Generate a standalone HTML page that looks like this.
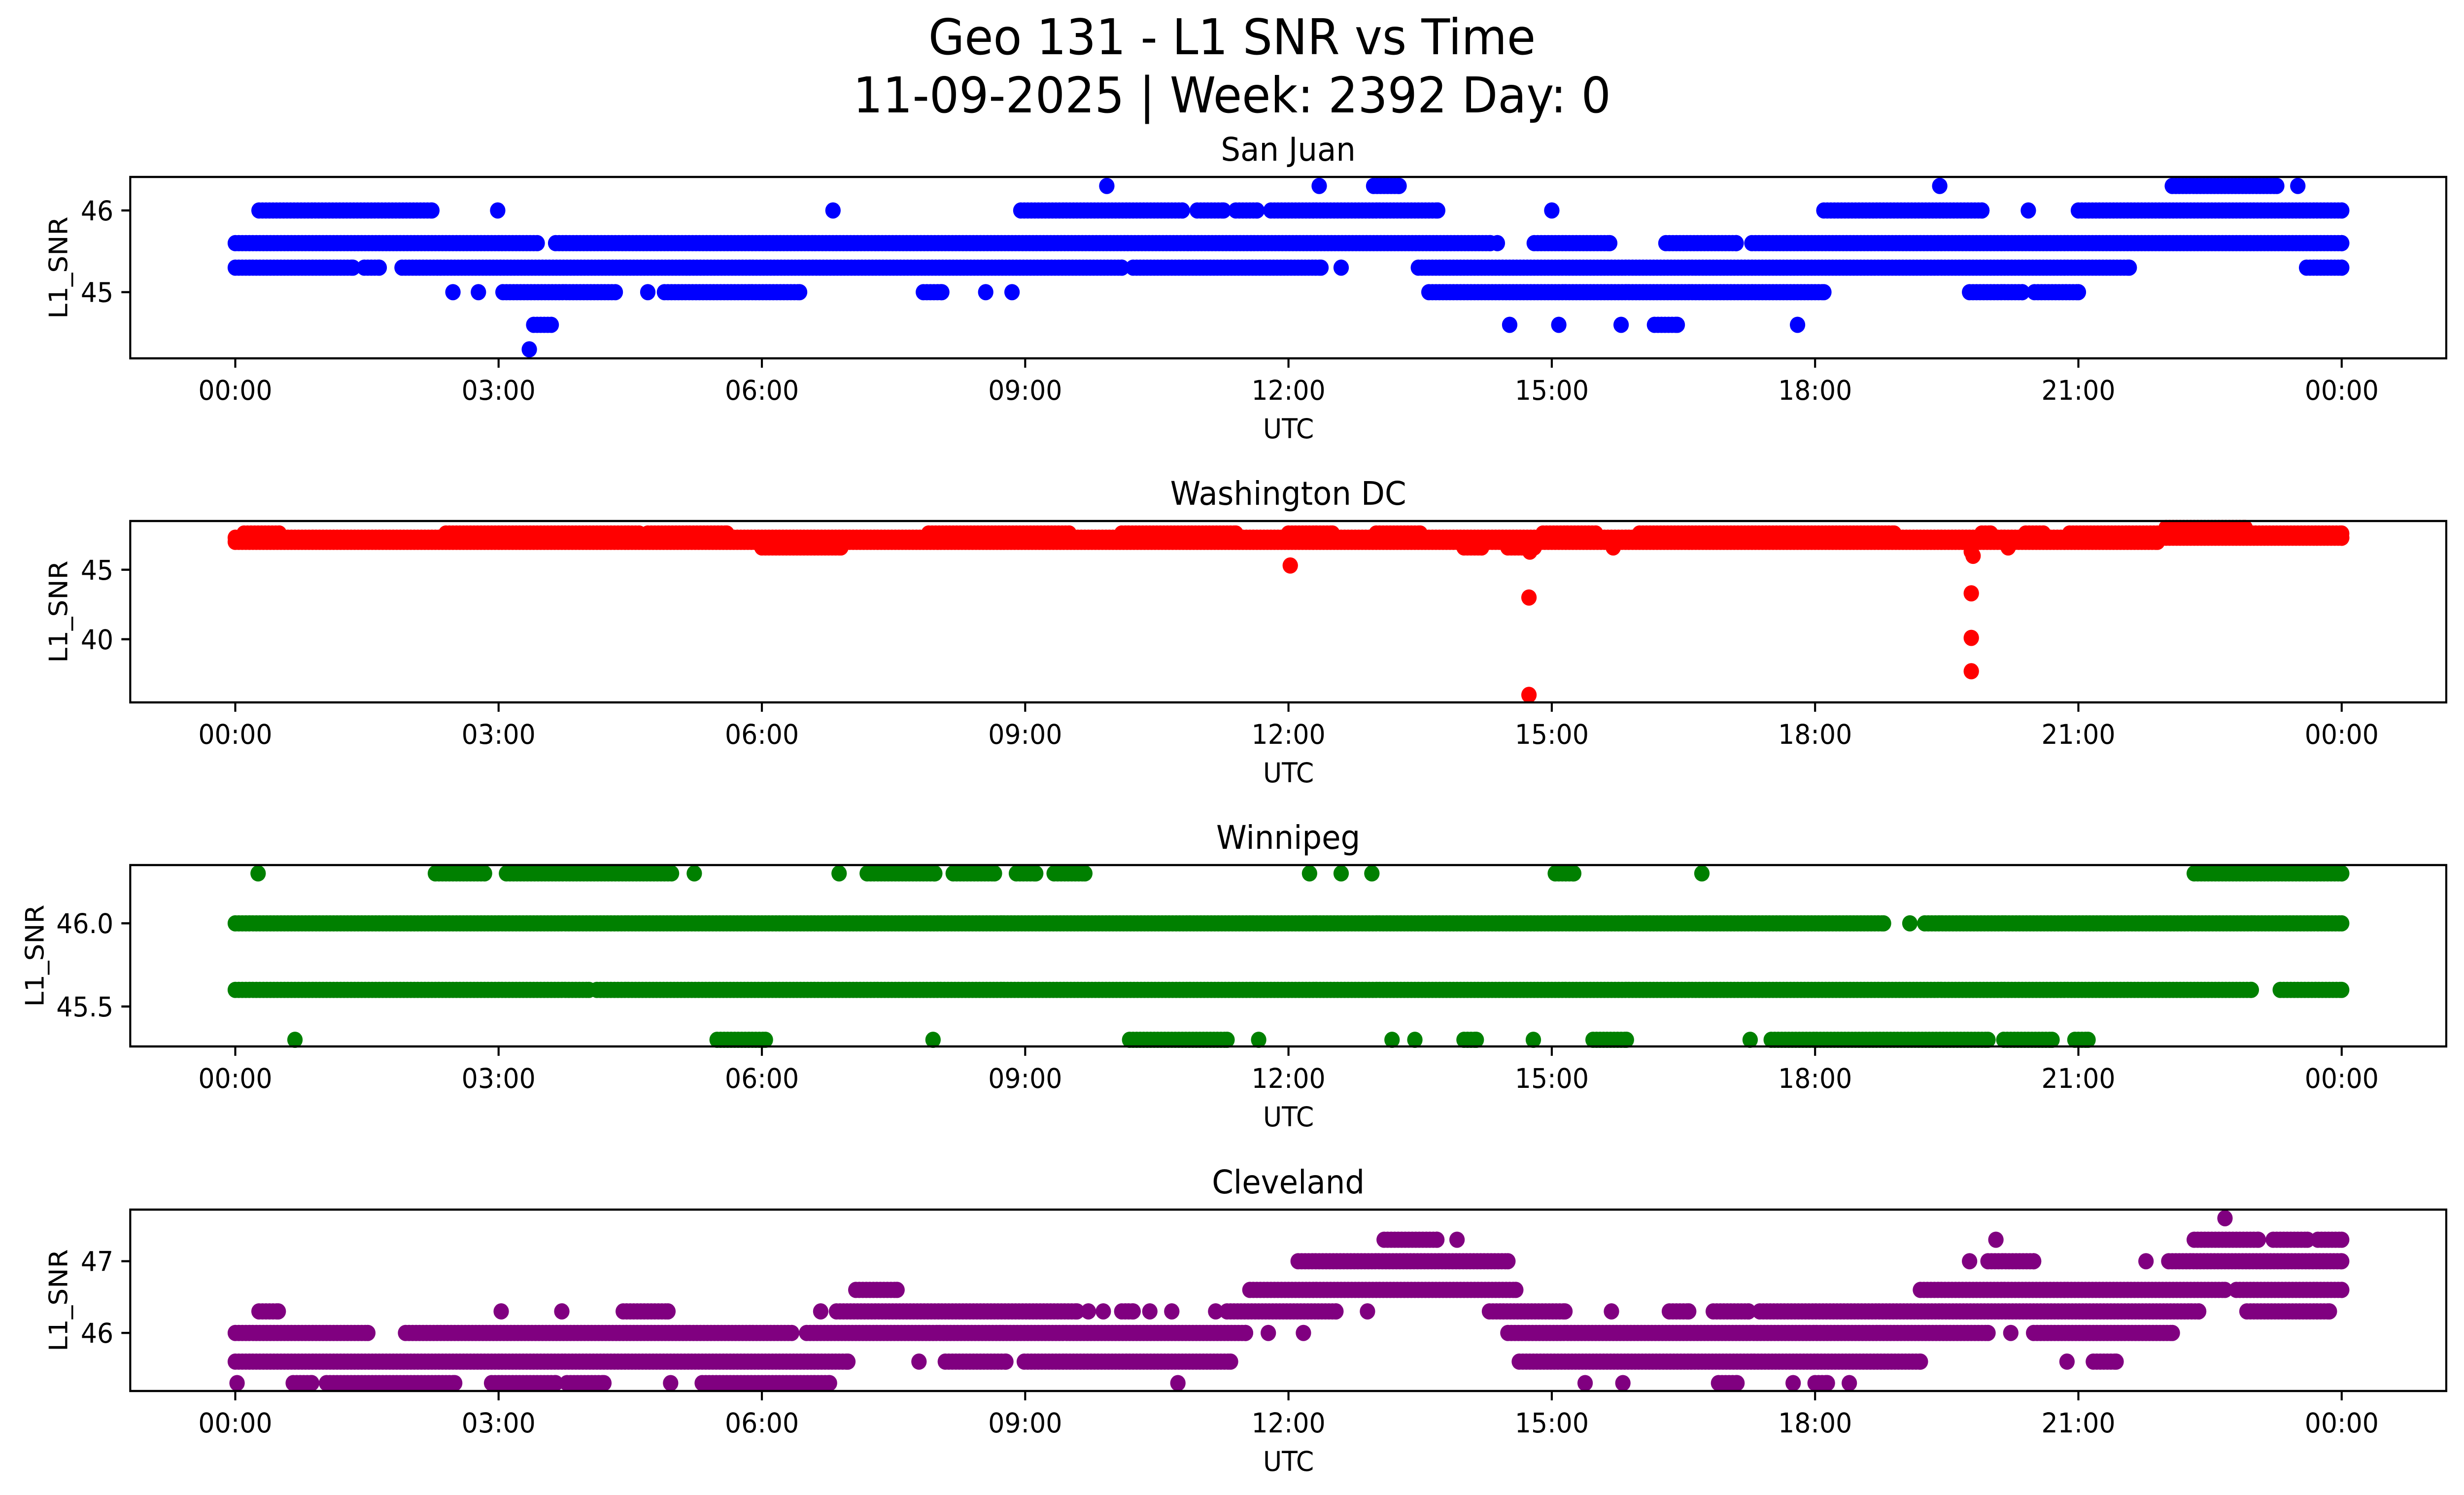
<!DOCTYPE html>
<html><head><meta charset="utf-8"><style>
html,body{margin:0;padding:0;background:#fff;overflow:hidden;width:100%;height:100%;}
svg{display:block;position:fixed;left:0;top:0;width:100vw;height:100vh;font-family:"DejaVu Sans","Liberation Sans",sans-serif;}
</style></head><body>
<svg id="fig" viewBox="0 0 5278 3033" preserveAspectRatio="none" xmlns="http://www.w3.org/2000/svg">
<rect x="0" y="0" width="5278" height="3033" fill="#fff"/>
<text x="2639" y="110" text-anchor="middle" font-size="100">Geo 131 - L1 SNR vs Time</text>
<text x="2639" y="228" text-anchor="middle" font-size="100">11-09-2025 | Week: 2392 Day: 0</text>
</svg>
<script>
// ---- data ----
const xTickHours = [0,3,6,9,12,15,18,21,24];
const xTickLabels = ["00:00","03:00","06:00","09:00","12:00","15:00","18:00","21:00","00:00"];
const panelTitles = ["San Juan","Washington DC","Winnipeg","Cleveland"];
const panelColors = ["#0000ff","#ff0000","#008000","#800080"];
const yDomains = [[44.19,46.41],[35.46,48.5],[45.26,46.35],[45.19,47.72]];
const yTicks = [[45,46],[40,45],[45.5,46.0],[46,47]];
const yTickLabels = [["45","46"],["40","45"],["45.5","46.0"],["46","47"]];

// San Juan runs
const p1Level = [46.3,46.3,46.3,46.3,46.3,46.3, 46,46,46,46,46,46,46,46,46,46,46, 45.6,45.6,45.6,45.6,45.6,45.6, 45.3,45.3,45.3,45.3,45.3,45.3,45.3, 45,45,45,45,45,45,45,45,45,45,45, 44.6,44.6,44.6,44.6,44.6,44.6, 44.3];
const p1Start = [9.93,12.35,12.97,19.42,22.07,23.5, 0.27,2.99,6.81,8.95,10.96,11.4,11.8,15.0,18.1,20.43,21.0, 0,3.65,14.38,14.8,16.3,17.28, 0,1.47,1.9,10.23,12.6,13.48,23.6, 2.48,2.77,3.05,4.7,4.89,7.84,8.55,8.85,13.6,19.76,20.5, 3.4,14.52,15.08,15.79,16.17,17.8, 3.35];
const p1End   = [9.93,12.35,13.26,19.42,23.26,23.5, 2.24,2.99,6.81,10.79,11.26,11.64,13.7,15.0,19.9,20.43,24.0, 3.44,14.3,14.38,15.66,17.1,24, 1.34,1.64,10.1,12.37,12.6,21.58,24, 2.48,2.77,4.33,4.7,6.43,8.05,8.55,8.85,18.1,20.36,21.0, 3.6,14.52,15.08,15.79,16.43,17.8, 3.35];

// Washington DC runs
const p2Level = [47.0,47.3, 47.6,47.6,47.6,47.6,47.6,47.6,47.6,47.6,47.6,47.6,47.6,47.6, 48.0, 46.6,46.6,46.6,46.6,46.6, 46.3,46.3,46.0, 45.3,43.0,36.0,43.3,40.1,37.7];
const p2Start = [0,0, 0.1,2.4,4.7,7.9,10.1,12.0,13.0,14.9,16.0,19.9,20.4,20.9, 22.0, 6.0,14.0,14.5,15.7,20.2, 14.75,19.78,19.8, 12.02,14.74,14.74,19.78,19.78,19.78];
const p2End   = [21.9,24, 0.5,4.6,5.6,9.5,11.4,12.5,13.5,15.5,18.9,20.0,20.6,24, 22.9, 6.9,14.2,14.8,15.7,20.2, 14.75,19.78,19.8, 12.02,14.74,14.74,19.78,19.78,19.78];

// Winnipeg runs
const p3Level = [46.3,46.3,46.3,46.3,46.3,46.3,46.3,46.3,46.3,46.3,46.3,46.3,46.3,46.3,46.3, 46,46,46, 45.6,45.6,45.6, 45.3,45.3,45.3,45.3,45.3,45.3,45.3,45.3,45.3,45.3,45.3,45.3,45.3,45.3];
const p3Start = [0.26,2.28,3.09,5.23,6.88,7.2,8.18,8.9,9.33,12.24,12.6,12.95,15.04,16.71,22.32, 0,19.08,19.25, 0,4.12,23.3, 0.68,5.49,7.95,10.19,11.66,13.18,13.44,14.0,14.79,15.47,17.26,17.5,20.15,20.96];
const p3End   = [0.26,2.84,4.97,5.23,6.88,7.97,8.65,9.12,9.68,12.24,12.6,12.95,15.25,16.71,24, 18.78,19.08,24, 4.03,22.97,24, 0.68,6.04,7.95,11.3,11.66,13.18,13.44,14.14,14.79,15.85,17.26,19.97,20.7,21.11];

// Cleveland runs
const p4Level = [47.6, 47.3,47.3,47.3,47.3,47.3,47.3, 47,47,47,47,47, 46.6,46.6,46.6,46.6,
 46.3,46.3,46.3,46.3,46.3,46.3,46.3,46.3,46.3,46.3,46.3,46.3,46.3,46.3,46.3,46.3,46.3,46.3,46.3,46.3,
 46,46,46,46,46,46,46,46, 45.6,45.6,45.6,45.6,45.6,45.6,45.6,
 45.3,45.3,45.3,45.3,45.3,45.3,45.3,45.3,45.3,45.3,45.3,45.3,45.3,45.3];
const p4Start = [22.67, 13.09,13.92,20.06,22.32,23.22,23.73, 12.11,19.76,19.97,21.77,22.03, 7.07,11.56,19.2,22.8,
 0.27,3.03,3.72,4.42,6.67,6.85,9.72,9.89,10.1,10.42,10.67,11.17,11.3,12.9,14.29,15.68,16.34,16.84,17.37,22.92,
 0,1.94,6.51,11.77,12.17,14.5,20.23,20.49, 0,7.79,8.09,8.99,14.63,20.87,21.17,
 0.02,0.66,1.04,2.92,3.78,4.96,5.32,10.74,15.38,15.81,16.9,17.75,18.0,18.39];
const p4End   = [22.67, 13.69,13.92,20.06,23.05,23.61,24, 14.5,19.76,20.49,21.77,24, 7.54,14.59,22.67,24,
 0.49,3.03,3.72,4.93,6.67,9.59,9.72,9.89,10.23,10.42,10.67,11.17,12.54,12.9,15.15,15.68,16.56,17.24,22.37,23.86,
 1.51,6.34,11.51,11.77,12.17,19.97,20.23,22.07, 6.98,7.79,8.78,11.34,19.2,20.87,21.43,
 0.02,0.87,2.5,3.65,4.2,4.96,6.77,10.74,15.38,15.81,17.11,17.75,18.14,18.39];

const runLevels = [p1Level,p2Level,p3Level,p4Level];
const runStarts = [p1Start,p2Start,p3Start,p4Start];
const runEnds = [p1End,p2End,p3End,p4End];

// ---- layout ----
const NS = "http://www.w3.org/2000/svg";
const svg = document.getElementById('fig');
const axL = 279, axR = 5240, axH = 368;
const axTops = [359, 1057, 1755, 2454];
const x0 = 504, pxPerHour = 188;
const ylabelX = [125,125,74,125];
function xScale(h){ return x0 + h*pxPerHour; }
function mk(tag, attrs){ const e=document.createElementNS(NS,tag); for(const k in attrs) e.setAttribute(k, attrs[k]); return e; }

for (let p=0;p<4;p++){
  const top = axTops[p], bot = top+axH;
  const [d0,d1] = yDomains[p];
  const yScale = v => bot - (v-d0)/(d1-d0)*axH;
  const g = mk('g',{});
  
  
  svg.appendChild(g);

  const pts = mk('g',{fill:panelColors[p]});
  
  
  g.appendChild(pts);
  const L = runLevels[p], S = runStarts[p], E = runEnds[p];
  for (let i=0;i<L.length;i++){
    const cy = yScale(L[i]);
    const hs = [];
    for (let h=S[i]; h<E[i]; h+=0.04) hs.push(h);
    hs.push(E[i]);
    for (const h of hs){
      const c = mk('circle',{cx:xScale(h).toFixed(1), cy:cy.toFixed(1), r:16.5});
      
      
      pts.appendChild(c);
    }
  }

  const fr = mk('rect',{x:axL,y:top,width:axR-axL,height:axH,fill:'none',stroke:'#000','stroke-width':4.4});
  
  
  g.appendChild(fr);

  for (let i=0;i<xTickHours.length;i++){
    const x = xScale(xTickHours[i]);
    const t = mk('line',{x1:x,x2:x,y1:bot,y2:bot+19,stroke:'#000','stroke-width':4.4});
    
    
    g.appendChild(t);
    const tl = mk('text',{x:x,y:bot+84,'text-anchor':'middle','font-size':55});
    tl.textContent = xTickLabels[i];
    
    
    g.appendChild(tl);
  }
  for (let i=0;i<yTicks[p].length;i++){
    const y = yScale(yTicks[p][i]);
    const t = mk('line',{x1:axL-19,x2:axL,y1:y,y2:y,stroke:'#000','stroke-width':4.4});
    
    
    g.appendChild(t);
    const tl = mk('text',{x:axL-36,y:y+20,'text-anchor':'end','font-size':55});
    tl.textContent = yTickLabels[p][i];
    
    
    g.appendChild(tl);
  }
  const tt = mk('text',{x:(axL+axR)/2,y:top-33,'text-anchor':'middle','font-size':66});
  tt.textContent = panelTitles[p];
  
  
  g.appendChild(tt);
  const xl = mk('text',{x:(x0+xScale(24))/2,y:bot+162,'text-anchor':'middle','font-size':55});
  xl.textContent = 'UTC';
  
  
  g.appendChild(xl);
  const cyl = top+axH/2;
  const yl = mk('text',{x:ylabelX[p],y:cyl,'text-anchor':'middle','font-size':55,transform:'rotate(-90 '+ylabelX[p]+' '+cyl+')',dy:'0.35em'});
  yl.textContent = 'L1_SNR';
  
  
  g.appendChild(yl);
}
</script>
</body></html>
